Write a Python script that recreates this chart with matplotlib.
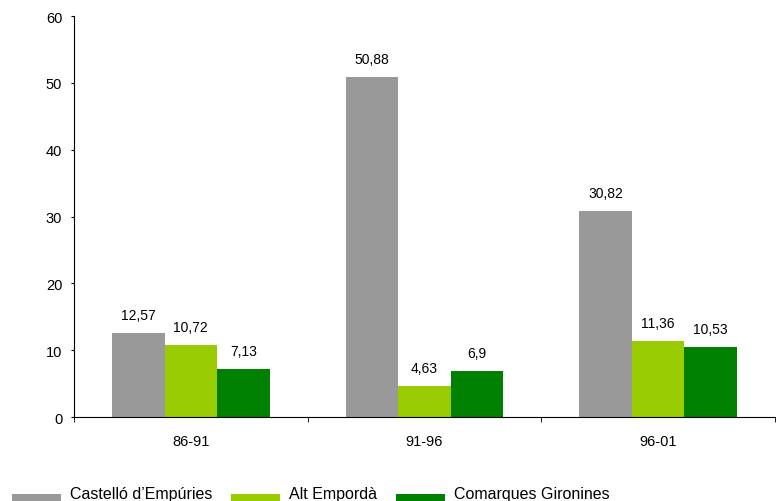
import numpy as np
import matplotlib.pyplot as plt

plt.rcParams['font.family'] = ['Liberation Sans', 'DejaVu Sans']

periods = ['86-91', '91-96', '96-01']
series_names = ['Castelló d\u2019Empúries', 'Alt Empordà', 'Comarques Gironines']
castello = [12.57, 50.88, 30.82]
alt_emporda = [10.72, 4.63, 11.36]
comarques = [7.13, 6.9, 10.53]
labels = [['12,57', '50,88', '30,82'],
          ['10,72', '4,63', '11,36'],
          ['7,13', '6,9', '10,53']]
colors = ['#999999', '#99CC00', '#008000']

fig = plt.figure(figsize=(7.76, 5.02), dpi=100)
ax = fig.add_axes([74 / 776, 1 - 418 / 502, 701 / 776, 401 / 502])

x = np.arange(len(periods))
width = 0.225
handles = []
for i, (vals, col) in enumerate(zip([castello, alt_emporda, comarques], colors)):
    pos = x + (i - 1) * width
    b = ax.bar(pos, vals, width, color=col, label=series_names[i])
    handles.append(b)
    for p, v, t in zip(pos, vals, labels[i]):
        ax.annotate(t, (p, v), xytext=(0, 8), textcoords='offset points',
                    ha='center', va='bottom', fontsize=10)

ax.set_xlim(-0.5, 2.5)
ax.set_ylim(0, 60)
ax.set_yticks(range(0, 61, 10))
ax.set_xticks(x)
ax.set_xticklabels(periods, fontsize=10.5)
ax.set_xticks([-0.5, 0.5, 1.5, 2.5], minor=True)
ax.tick_params(axis='x', which='major', length=0, pad=12)
ax.tick_params(axis='x', which='minor', length=3.5, direction='out', color='black')
ax.tick_params(axis='y', length=2.5, direction='out', labelsize=10.5, pad=6)
ax.spines['top'].set_visible(False)
ax.spines['right'].set_visible(False)

leg = fig.legend(handles=handles, loc='center left', bbox_to_anchor=(12 / 776, 7.5 / 502),
                 ncol=3, frameon=False, fontsize=11.5, handlelength=3.05, handleheight=1.0,
                 handletextpad=0.56, columnspacing=1.2, borderaxespad=0, borderpad=0)
# legend boxes sit a bit lower than the text in the reference
for p in leg.get_patches():
    p.set_y(p.get_y() - 6)

fig.savefig('out.png', dpi=100)
